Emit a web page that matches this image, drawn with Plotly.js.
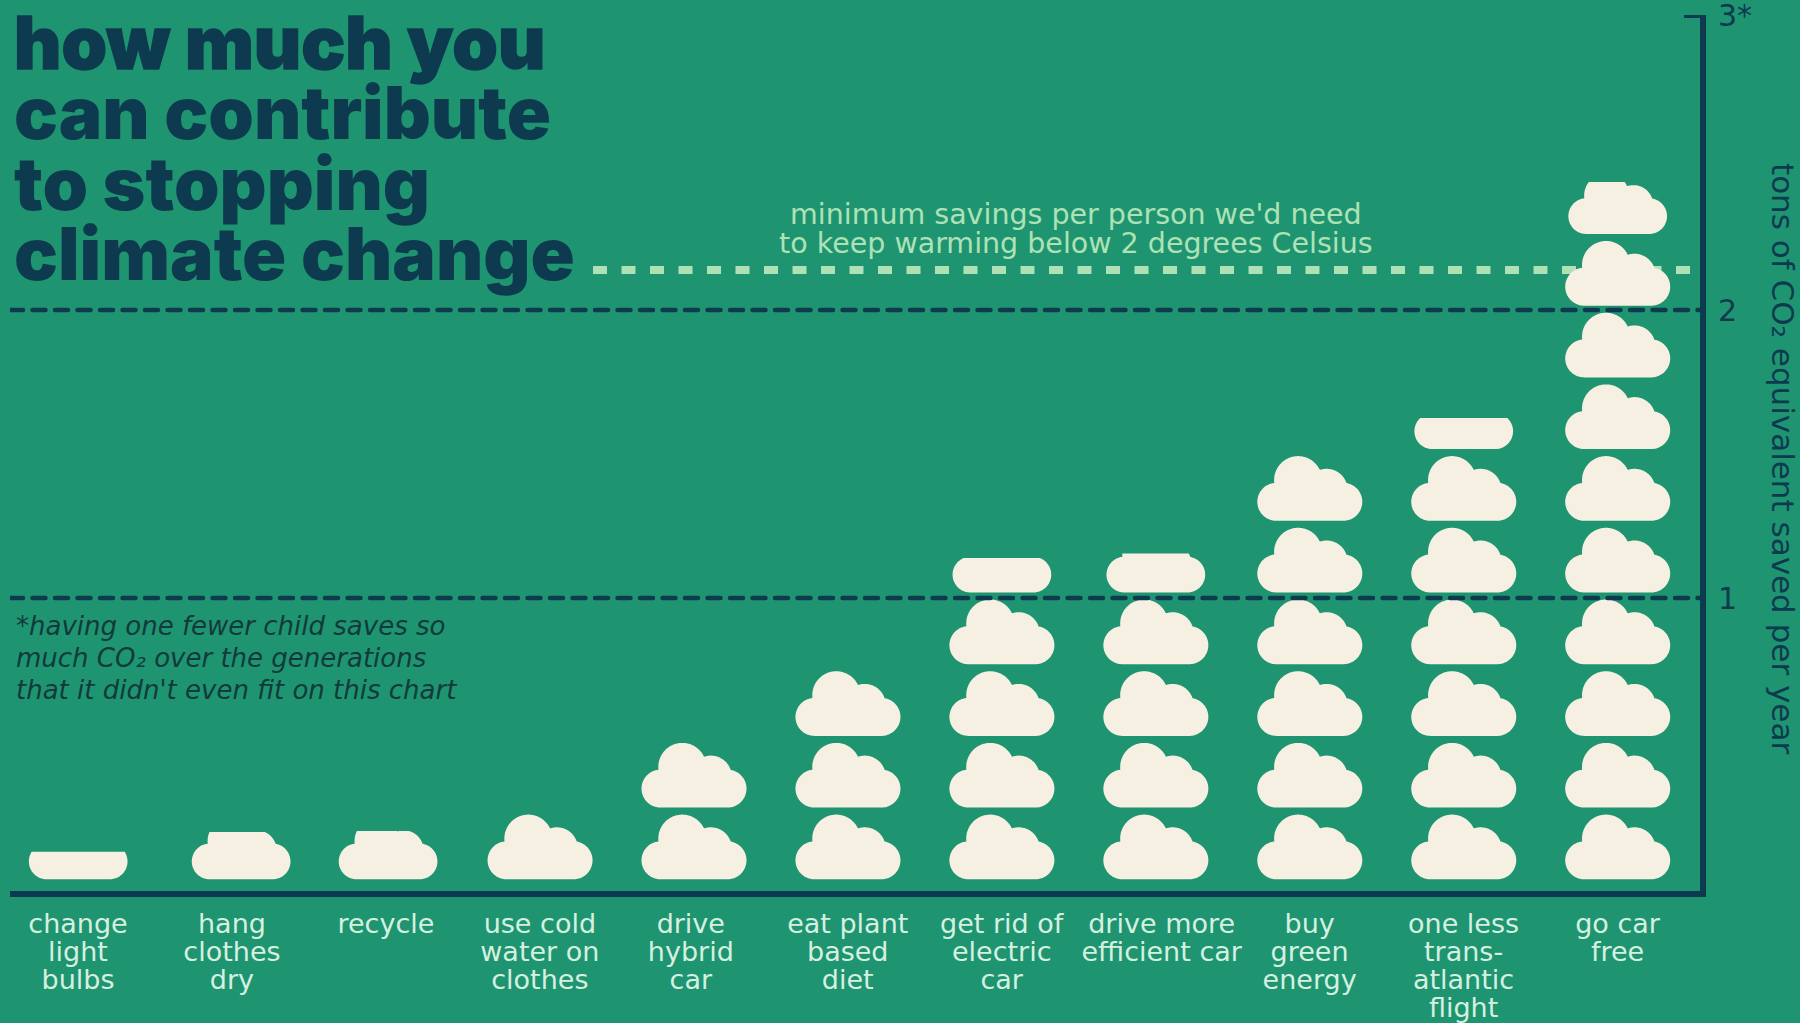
<!DOCTYPE html>
<html>
<head>
<meta charset="utf-8">
<script src="https://cdn.plot.ly/plotly-3.0.1.min.js"></script>
<style>
html,body{margin:0;padding:0;background:#1e9570;}
#chart{width:1800px;height:1023px;}
.scatterlayer .trace:nth-last-child(-n+2) .js-line{stroke-linecap:round;}
.annotation:nth-child(-n+4) .annotation-text{stroke:#0e3a50;stroke-width:1.4px;}
</style>
</head>
<body>
<div id="chart"></div>
<script>
// ---- data ----
const actions = ["change<br>light<br>bulbs","hang<br>clothes<br>dry","recycle","use cold<br>water on<br>clothes","drive<br>hybrid<br>car","eat plant<br>based<br>diet","get rid of<br>electric<br>car","drive more<br>efficient car","buy<br>green<br>energy","one less<br>trans-<br>atlantic<br>flight","go car<br>free"];
const tonsSaved = [0.144,0.212,0.215,0.276,0.52,0.765,1.147,1.162,1.5,1.625,2.43];
const minimumSavings = 2.13;
const gridValues = [1.01,1.993];
const yTickValues = [1.01,1.993,3];
const yTickLabels = ["1","2","3*"];
const titleLines = ["how much you","can contribute","to stopping","climate change"];
const noteLines = ["*having one fewer child saves so","much CO₂ over the generations","that it didn't even fit on this chart"];
const minimumLabel = "minimum savings per person we'd need<br>to keep warming below 2 degrees Celsius";
const yTitle = "tons of CO₂ equivalent saved per year";

// ---- frame ----
const W=1800,H=1023,L=10,R=1700,T=15,B=891,Y0=894;
const xUnit=153.95, x0=78;            // px per category, px of first category
const yUnit=(Y0-T)/3;                 // px per ton
const xRange=[(L-x0)/xUnit,(R-x0)/xUnit];
const yRange=[(Y0-B)/yUnit,3];
const paperX=p=>(p-L)/(R-L), paperY=p=>(B-p)/(B-T);

const BG="#1e9570",NAVY="#0e3a50",CREAM="#f6f0e2",MINT="#aee2b6",LABEL="#d6f0e0";
const FONT="'DejaVu Sans', sans-serif";

// ---- one cloud icon: union of round lobes on a body (in px about bottom centre) ----
const lobes=[[-33.3,19,19],[33.7,19,19],[-11.5,40.7,24],[17,31,21]];
const inCloud=(x,y)=>(y>=0&&y<=38&&Math.abs(x)<=33.5)||lobes.some(c=>Math.hypot(x-c[0],y-c[1])<=c[2]);
const outline=[];
for(let a=0;a<360;a+=1){
  const dx=Math.cos(a*Math.PI/180),dy=Math.sin(a*Math.PI/180);
  let t=90;
  while(t>0&&!inCloud(dx*t,25+dy*t))t-=0.02;
  outline.push([dx*t,Math.max(0,25+dy*t)]);
}
function clipTop(poly,top){
  const out=[];
  for(let i=0;i<poly.length;i++){
    const a=poly[i],b=poly[(i+1)%poly.length];
    if(a[1]<=top)out.push(a);
    if((a[1]<=top)!==(b[1]<=top)){
      const f=(top-a[1])/(b[1]-a[1]);
      out.push([a[0]+f*(b[0]-a[0]),top]);
    }
  }
  return out;
}
const cloudHeight=64.7,cloudPitch=71.7,cloudBase=Y0-879.3;
function cloudTrace(value,i){
  const xs=[],ys=[];
  const nudge=i===1?9:(i===2?2:0);
  const topPx=value*yUnit;
  for(let k=0;cloudBase+k*cloudPitch<topPx;k++){
    const base=cloudBase+k*cloudPitch;
    const partial=base+cloudHeight>topPx+1;
    const s=partial?0.94:1;
    const poly=partial?clipTop(outline.map(p=>[p[0]*s,p[1]*s]),topPx-base):outline;
    poly.forEach(p=>{xs.push(i+(p[0]+nudge)/xUnit);ys.push((base+p[1])/yUnit);});
    xs.push(xs[xs.length-poly.length]);ys.push(ys[ys.length-poly.length]);
    xs.push(null);ys.push(null);
  }
  return {type:"scatter",mode:"lines",x:xs,y:ys,fill:"toself",fillcolor:CREAM,line:{width:0,color:CREAM,simplify:false},hoverinfo:"skip",showlegend:false,connectgaps:false};
}

const traces=[];
traces.push({type:"scatter",mode:"lines",x:[(593-x0)/xUnit,xRange[1]],y:[minimumSavings,minimumSavings],line:{color:MINT,width:8,dash:"14px,14.5px"},hoverinfo:"skip",showlegend:false});
tonsSaved.forEach((v,i)=>traces.push(cloudTrace(v,i)));
gridValues.forEach(v=>traces.push({type:"scatter",mode:"lines",x:xRange,y:[v,v],line:{color:NAVY,width:4.5,dash:"13px,9.5px"},hoverinfo:"skip",showlegend:false}));

const annotations=[];
titleLines.forEach((t,i)=>annotations.push({xref:"paper",yref:"paper",x:paperX(12),y:paperY(42+i*70.5),xanchor:"left",yanchor:"middle",showarrow:false,align:"left",text:t,font:{family:"Inter, sans-serif",size:73,weight:900,color:NAVY}}));
noteLines.forEach((t,i)=>annotations.push({xref:"paper",yref:"paper",x:paperX(14),y:paperY(626+i*32),xanchor:"left",yanchor:"middle",showarrow:false,align:"left",text:t,font:{family:FONT,size:26,style:"italic",color:"#123a3c"}}));
annotations.push({xref:"paper",yref:"paper",x:paperX(1076),y:paperY(233.5),xanchor:"center",yanchor:"middle",showarrow:false,align:"center",text:minimumLabel,font:{family:FONT,size:28.5,color:MINT}});
annotations.push({xref:"paper",yref:"paper",x:paperX(1783),y:paperY(458),xanchor:"center",yanchor:"middle",showarrow:false,textangle:90,text:yTitle,font:{family:FONT,size:31,color:NAVY}});

const labelNudge=i=>i===7?6:(i===4?-3:0);
const layout={
  width:W,height:H,
  paper_bgcolor:BG,plot_bgcolor:BG,
  margin:{l:L,r:W-R,t:T,b:H-B,pad:0},
  showlegend:false,hovermode:false,
  xaxis:{range:xRange,tickmode:"array",tickvals:actions.map((_,i)=>i+labelNudge(i)/xUnit),ticktext:actions,ticks:"",showgrid:false,zeroline:false,showline:true,linecolor:NAVY,linewidth:6,tickfont:{family:FONT,size:27,color:LABEL},tickangle:0,fixedrange:true,ticklabelstandoff:4},
  yaxis:{range:yRange,side:"right",tickmode:"array",tickvals:yTickValues,ticktext:yTickLabels,ticks:"",showgrid:false,zeroline:false,showline:true,linecolor:NAVY,linewidth:6,tickfont:{family:FONT,size:30,color:NAVY},ticklabeloverflow:"allow",ticklabelstandoff:6,fixedrange:true},
  shapes:[{type:"line",xref:"x",yref:"y",x0:(1684-x0)/xUnit,x1:xRange[1],y0:3,y1:3,line:{color:NAVY,width:6}}],
  annotations
};
// tighten multi-line text to the reference's line spacing
function tighten(sel,k){
  document.querySelectorAll(sel).forEach(n=>{
    const d=parseFloat(n.getAttribute("dy"));
    if(d)n.setAttribute("dy",(d*k)+"em");
  });
}
Plotly.newPlot("chart",traces,layout,{displayModeBar:false,responsive:false}).then(()=>{
  tighten(".xtick text tspan.line",28/(1.3*27));
  tighten(".annotation-text tspan.line",28.7/(1.3*28.5));
});
</script>
</body>
</html>
